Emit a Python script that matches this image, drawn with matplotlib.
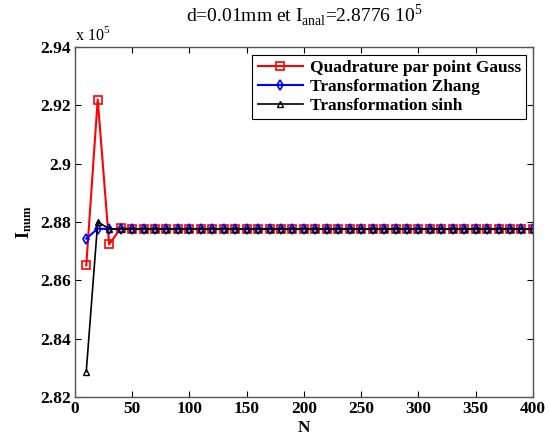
import matplotlib
matplotlib.use("Agg")
import matplotlib.pyplot as plt
from matplotlib.ticker import FuncFormatter

# N = 10, 20, ..., 400
N = list(range(10, 401, 10))

I_gauss_head = [2.8651, 2.9220, 2.8723, 2.8779]
I_zhang_head = [2.8743, 2.8777, 2.8776]
I_sinh_head = [2.8287, 2.8800, 2.8777]
I_steady = 2.8776

I_gauss = I_gauss_head + [I_steady] * (len(N) - len(I_gauss_head))
I_zhang = I_zhang_head + [I_steady] * (len(N) - len(I_zhang_head))
I_sinh = I_sinh_head + [I_steady] * (len(N) - len(I_sinh_head))

plt.rcParams['font.family'] = ['Liberation Serif', 'DejaVu Serif']
plt.rcParams['mathtext.fontset'] = 'custom'
plt.rcParams['mathtext.rm'] = 'Liberation Serif'
plt.rcParams['mathtext.bf'] = 'Liberation Serif:bold'

fig = plt.figure(figsize=(5.5, 4.41), dpi=100)
ax = fig.add_axes([0.136, 0.0998, 0.833, 0.7935])

ax.plot(N, I_gauss, color='red', lw=1.5, marker='s', ms=6, mfc='none', mew=1.2,
        label='Quadrature par point Gauss')
ax.plot(N, I_zhang, color='blue', lw=1.5, marker='d', ms=5, mfc='none', mew=1.2,
        label='Transformation Zhang')
ax.plot(N, I_sinh, color='black', lw=1.2, marker='^', ms=5, mfc='none', mew=1.0,
        label='Transformation sinh')

ax.set_xlim(0, 400)
ax.set_ylim(2.82, 2.94)
ax.set_xticks(range(0, 401, 50))
ax.set_yticks([2.82, 2.84, 2.86, 2.88, 2.90, 2.92, 2.94])
ax.yaxis.set_major_formatter(FuncFormatter(lambda v, p: '%g' % round(v, 2)))
ax.tick_params(direction='in', top=True, right=True, length=4, width=0.8,
               labelsize=12.5, colors='black', pad=3)
for lab in ax.get_xticklabels() + ax.get_yticklabels():
    lab.set_fontweight('bold')
for s in ax.spines.values():
    s.set_color('#555555')
    s.set_linewidth(1.0)

ax.set_xlabel('N', fontsize=12.5, fontweight='bold', labelpad=2)
ax.set_ylabel(r'$\mathbf{I_{num}}$', fontsize=13, labelpad=4)
ax.set_title(r'd=0.01mm et I$_{\mathrm{anal}}$=2.8776 10$^5$', fontsize=14, pad=18)
ax.text(0.0, 1.008, r'x 10$^5$', transform=ax.transAxes, fontsize=11.5,
        ha='left', va='bottom')

leg = ax.legend(loc='upper right', bbox_to_anchor=(0.985, 0.977),
                prop={'weight': 'bold', 'size': 12.5}, fancybox=False,
                edgecolor='black', framealpha=1, borderpad=0.3,
                labelspacing=0.15, handlelength=2.6, handletextpad=0.4,
                borderaxespad=0)
leg.get_frame().set_linewidth(0.8)

fig.savefig('out.png', dpi=100)
